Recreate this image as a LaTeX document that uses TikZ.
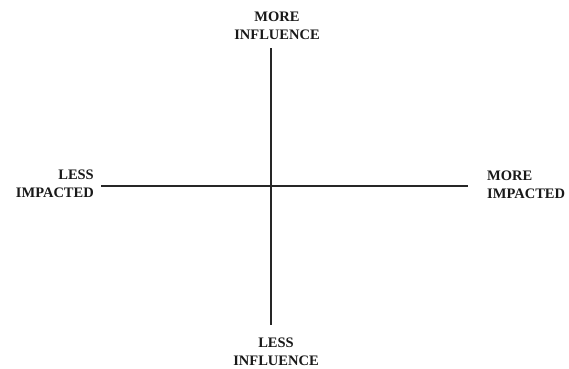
\documentclass[tikz,border=0pt]{standalone}
\usepackage{fontspec}
\setmainfont{Liberation Serif}
\begin{document}
\begin{tikzpicture}[x=1pt,y=-1pt,
  lbl/.style={font={\fontsize{14.5}{18}\selectfont\bfseries}, inner sep=0pt, text=black!90},
  axis/.style={draw=black!85, line width=1.1pt}]
\useasboundingbox[fill=white] (0,0) rectangle (569,368);
\coordinate (top) at (271,48);
\coordinate (bot) at (271,325);
\coordinate (lft) at (101,186);
\coordinate (rgt) at (468,186);
\draw[axis] (top) -- (bot);
\draw[axis] (lft) -- (rgt);
\node[lbl, align=center, anchor=north] (tl) at (277,12) {MORE\\INFLUENCE};
\node[lbl, align=center, anchor=south] (bl) at (276,366) {LESS\\INFLUENCE};
\node[lbl, align=right, anchor=south east] (ll) at (94,198) {LESS\\IMPACTED};
\node[lbl, align=left, anchor=south west] (rl) at (487,199) {MORE\\IMPACTED};
\end{tikzpicture}
\end{document}
